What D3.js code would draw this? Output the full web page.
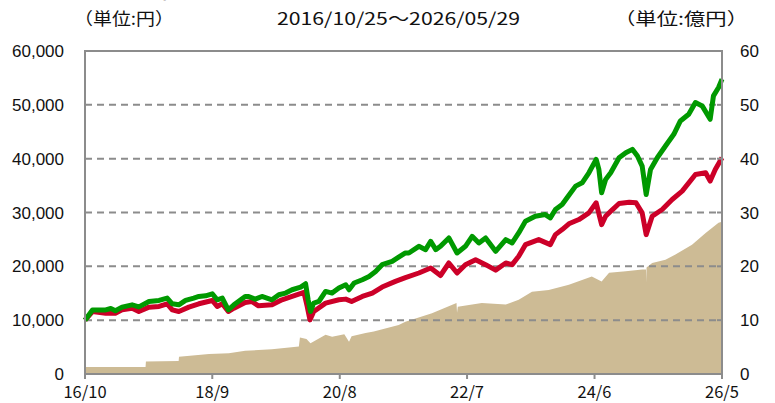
<!DOCTYPE html>
<html><head><meta charset="utf-8">
<script src="https://cdn.jsdelivr.net/npm/d3@7/dist/d3.min.js"></script>
<style>body{margin:0;background:#fff}svg{display:block}</style>
</head><body><svg id="c" width="775" height="403"></svg>
<script>
// ---------- data ----------
const startDate = "2016-10-25", endDate = "2026-05-29";
const xTickDates  = ["2016-10-25","2018-09-25","2020-08-26","2022-07-27","2024-06-27","2026-05-29"];
const xTickLabels = ["16/10","18/9","20/8","22/7","24/6","26/5"];
const leftTicks   = [0,10000,20000,30000,40000,50000,60000];
const rightTicks  = [0,10,20,30,40,50,60];

// 分配金再投資基準価額 (円)
const greenDates = ["2016-10-25","2016-12-05","2017-02-16","2017-03-16","2017-04-10","2017-05-17","2017-07-11","2017-08-17","2017-10-12","2017-12-06","2018-01-20","2018-02-17","2018-03-25","2018-05-01","2018-06-15","2018-07-13","2018-08-19","2018-09-25","2018-10-22","2018-11-19","2018-12-22","2019-01-22","2019-03-25","2019-04-13","2019-05-19","2019-06-25","2019-08-19","2019-09-26","2019-11-02","2019-12-08","2020-01-24","2020-02-20","2020-03-05","2020-03-18","2020-04-05","2020-05-03","2020-06-09","2020-07-15","2020-08-21","2020-09-28","2020-10-16","2020-11-13","2020-12-28","2021-02-03","2021-03-11","2021-04-16","2021-06-10","2021-07-16","2021-08-22","2021-09-10","2021-11-04","2021-12-11","2022-01-08","2022-02-05","2022-03-03","2022-04-18","2022-06-02","2022-07-18","2022-08-24","2022-09-30","2022-11-06","2022-12-31","2023-02-25","2023-04-01","2023-05-07","2023-06-13","2023-08-06","2023-09-30","2023-10-28","2023-11-25","2024-01-01","2024-02-07","2024-03-15","2024-04-20","2024-05-27","2024-07-06","2024-07-21","2024-08-05","2024-08-27","2024-09-24","2024-11-09","2024-12-16","2025-01-21","2025-02-18","2025-03-16","2025-04-07","2025-05-01","2025-06-07","2025-07-22","2025-09-06","2025-10-12","2025-11-27","2026-01-03","2026-02-09","2026-03-25","2026-04-12","2026-05-10","2026-05-29"];
const greenValues = [10000,11900,11900,12170,11740,12420,12850,12470,13470,13660,14100,13040,12850,13660,14100,14400,14530,14900,13790,14100,11920,12850,14400,14400,13900,14400,13790,14720,15030,15650,16150,16770,13790,11600,13170,13470,15340,15030,15960,16580,15650,16900,17510,18130,19060,20310,20920,21700,22480,22480,23720,23100,24650,23100,23720,25280,22480,23720,25580,24340,25280,22790,24960,24340,26210,28370,29300,29620,29000,30550,31480,33200,34900,35520,37380,39870,38000,33660,36140,37380,40180,41110,41730,40490,38620,33350,38000,40180,42350,44530,47010,48250,50430,49800,47320,51660,53220,54770];

// 基準価額 (円)
const redDates = ["2016-10-25","2016-12-05","2017-02-16","2017-04-10","2017-05-17","2017-07-11","2017-08-17","2017-10-12","2017-12-06","2018-01-20","2018-02-17","2018-03-25","2018-05-19","2018-07-13","2018-09-25","2018-10-22","2018-11-19","2018-12-22","2019-01-22","2019-03-25","2019-04-30","2019-06-06","2019-08-19","2019-10-13","2019-12-08","2020-02-11","2020-02-29","2020-03-15","2020-04-05","2020-06-09","2020-08-21","2020-09-28","2020-10-30","2020-12-28","2021-02-21","2021-04-16","2021-06-28","2021-08-22","2021-11-04","2022-01-08","2022-03-03","2022-04-18","2022-06-02","2022-07-18","2022-09-12","2022-11-06","2022-12-31","2023-02-25","2023-04-01","2023-05-07","2023-06-13","2023-08-25","2023-10-28","2023-11-25","2024-01-01","2024-02-07","2024-04-02","2024-05-27","2024-07-06","2024-08-05","2024-08-27","2024-10-04","2024-11-09","2025-01-04","2025-02-10","2025-03-16","2025-04-07","2025-05-10","2025-07-04","2025-08-28","2025-10-22","2026-01-03","2026-02-28","2026-03-25","2026-04-22","2026-05-29"];
const redValues = [10000,11600,11300,11300,11920,12230,11610,12420,12540,13040,11920,11610,12420,13040,13660,12540,13040,11610,12230,13300,13470,12670,12850,13790,14400,15150,12540,10060,11610,13170,13790,13910,13470,14400,15030,16150,17200,17900,18760,19690,18300,20620,18760,20310,21240,20310,19300,20620,20310,21860,24030,24960,24030,25890,26830,27900,28690,29930,31800,27750,29300,30550,31670,31920,31800,29930,25890,29300,30550,32420,33970,37070,37380,35830,38000,40180];

// 純資産総額 (億円)
const assetDates = ["2016-10-25","2017-09-23","2017-09-25","2018-03-24","2018-03-26","2018-09-07","2018-12-25","2019-03-25","2019-08-19","2020-01-14","2020-01-20","2020-02-25","2020-03-18","2020-06-09","2020-07-15","2020-09-20","2020-10-16","2020-10-30","2021-01-15","2021-03-01","2021-07-16","2021-08-22","2022-01-15","2022-05-30","2022-06-02","2022-06-06","2022-10-16","2023-02-25","2023-05-07","2023-07-19","2023-10-19","2024-02-07","2024-06-12","2024-08-05","2024-09-15","2024-12-16","2025-03-16","2025-04-06","2025-04-07","2025-04-09","2025-05-10","2025-07-22","2025-09-15","2025-12-15","2026-02-28","2026-05-10","2026-05-29"];
const assetValues = [1.3,1.3,2.3,2.4,3.2,3.7,3.85,4.3,4.6,5.1,6.8,6.5,5.7,7.3,6.9,7.4,6.0,7.0,7.6,7.9,9.1,9.7,11.3,13.2,11.4,12.5,13.2,12.9,13.8,15.3,15.6,16.6,18.1,17.2,18.8,19.1,19.4,19.4,17.0,19.8,20.6,21.2,22.2,24.0,26.2,28.1,28.3];

// ---------- drawing ----------
const parse = d3.timeParse("%Y-%m-%d");
const svg = d3.select("#c");
const L = 85, R = 722, T = 51, B = 374;
const x = d3.scaleTime().domain([parse(startDate), parse(endDate)]).range([L, R]);
const yL = d3.scaleLinear().domain([0, 60000]).range([B, T]);
const yR = d3.scaleLinear().domain([0, 60]).range([B, T]);
const gray = "#8c8c8c";

// title (cut off at top edge, as in the reference)
svg.append("text").attr("x", 40).attr("y", -2).attr("font-family", "Noto Sans CJK JP")
  .attr("font-size", 20).attr("font-weight", "bold").attr("fill", "#222").text("■基準価額・純資産の推移");

// header
const hdr = svg.append("g").attr("font-family", "Noto Sans CJK JP").attr("font-size", 17).attr("fill", "#111");
hdr.append("text").attr("x", 74).attr("y", 25).attr("textLength", 100).attr("lengthAdjust","spacingAndGlyphs").text("（単位:円）");
hdr.append("text").attr("x", 277).attr("y", 25).attr("textLength", 243).attr("lengthAdjust","spacingAndGlyphs").text(startDate.replace(/-/g,"/") + "～" + endDate.replace(/-/g,"/"));
hdr.append("text").attr("x", 614).attr("y", 25).attr("textLength", 134).attr("lengthAdjust","spacingAndGlyphs").text("（単位:億円）");

// area
const aData = assetDates.map((d,i)=>({d:parse(d), v:assetValues[i]}));
svg.append("path").datum(aData).attr("fill", "#cdbb95")
  .attr("d", d3.area().x(p=>x(p.d)).y0(B).y1(p=>yR(p.v)));

// grid
svg.append("g").selectAll("line").data(leftTicks.filter(t=>t>0 && t<60000)).join("line")
  .attr("x1", L).attr("x2", R).attr("y1", d=>yL(d)).attr("y2", d=>yL(d))
  .attr("stroke", gray).attr("stroke-width", 2).attr("stroke-dasharray", "7,5");

// lines
const line = d3.line().x(p=>x(p.d)).y(p=>yL(p.v));
const rData = redDates.map((d,i)=>({d:parse(d), v:redValues[i]}));
const gData = greenDates.map((d,i)=>({d:parse(d), v:greenValues[i]}));
svg.append("path").datum(rData).attr("fill","none").attr("stroke","#cc0028").attr("stroke-width",5).attr("stroke-linejoin","round").attr("d", line);
svg.append("path").datum(gData).attr("fill","none").attr("stroke","#009900").attr("stroke-width",5).attr("stroke-linejoin","round").attr("d", line);

// frame
svg.append("rect").attr("x", L).attr("y", T).attr("width", R-L).attr("height", B-T)
  .attr("fill","none").attr("stroke", gray).attr("stroke-width", 2);

// left axis labels
svg.append("g").selectAll("text").data(leftTicks).join("text")
  .attr("x", 64).attr("y", d=>yL(d)).attr("dy","0.36em").attr("text-anchor","end")
  .attr("font-family","Liberation Sans, Arial").attr("font-size",17).attr("fill","#111")
  .text(d=>d3.format(",")(d));
// right axis ticks + labels
svg.append("g").selectAll("line").data(rightTicks).join("line")
  .attr("x1", R-5).attr("x2", R).attr("y1", d=>yR(d)).attr("y2", d=>yR(d)).attr("stroke", gray).attr("stroke-width",2);
svg.append("g").selectAll("text").data(rightTicks).join("text")
  .attr("x", 740).attr("y", d=>yR(d)).attr("dy","0.36em")
  .attr("font-family","Liberation Sans, Arial").attr("font-size",17).attr("fill","#111")
  .text(d=>d);
// bottom ticks + labels
const xt = xTickDates.map(parse);
svg.append("g").selectAll("line").data(xt).join("line")
  .attr("x1", d=>x(d)).attr("x2", d=>x(d)).attr("y1", B).attr("y2", B+5).attr("stroke", gray).attr("stroke-width",2);
svg.append("g").selectAll("text").data(xt).join("text")
  .attr("x", d=>x(d)).attr("y", 398).attr("text-anchor","middle")
  .attr("font-family","Noto Sans CJK JP").attr("font-size",16.5).attr("fill","#111")
  .text((d,i)=>xTickLabels[i]);
</script></body></html>
